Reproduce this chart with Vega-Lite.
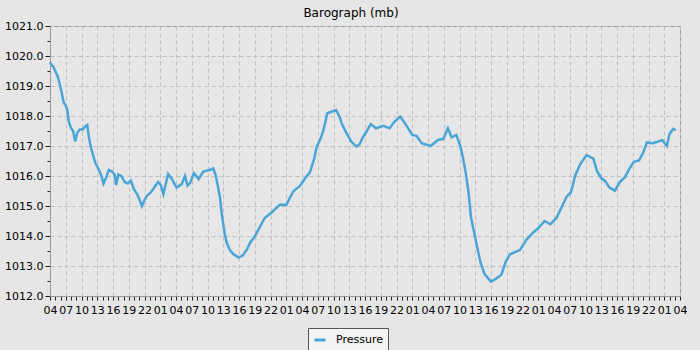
{
  "$schema": "https://vega.github.io/schema/vega-lite/v6.json",
  "width": 630,
  "height": 270,
  "autosize": {"type": "none"},
  "padding": {"left": 50, "top": 26, "right": 20, "bottom": 54},
  "background": "#e6e6e6",
  "title": {"text": "Barograph (mb)", "font": "DejaVu Sans", "fontSize": 12, "fontWeight": "normal", "color": "#000000", "offset": 0, "dx": -14},
  "config": {
    "view": {"stroke": "#999999", "strokeWidth": 1, "fill": "#e6e6e6"},
    "axis": {"labelFont": "DejaVu Sans", "labelFontSize": 11, "labelColor": "#000000", "domainColor": "#999999", "tickColor": "#222222", "gridColor": "#c0c0c0", "gridDash": [4, 3], "gridWidth": 1, "title": null}
  },
  "data": {"values": [
    {"h": 0, "p": 1019.8}, {"h": 0.3, "p": 1019.7}, {"h": 0.6, "p": 1019.65}, {"h": 1.0, "p": 1019.5},
    {"h": 1.4, "p": 1019.35}, {"h": 1.8, "p": 1019.1}, {"h": 2.2, "p": 1018.8}, {"h": 2.6, "p": 1018.45},
    {"h": 3.0, "p": 1018.35}, {"h": 3.3, "p": 1018.2}, {"h": 3.6, "p": 1017.8}, {"h": 4.0, "p": 1017.6},
    {"h": 4.4, "p": 1017.5}, {"h": 4.8, "p": 1017.15}, {"h": 5.2, "p": 1017.45}, {"h": 5.7, "p": 1017.55},
    {"h": 6.2, "p": 1017.55}, {"h": 6.7, "p": 1017.65}, {"h": 7.1, "p": 1017.7}, {"h": 7.4, "p": 1017.3},
    {"h": 7.8, "p": 1016.95}, {"h": 8.2, "p": 1016.7}, {"h": 8.6, "p": 1016.45}, {"h": 9.2, "p": 1016.25},
    {"h": 9.8, "p": 1016.0}, {"h": 10.2, "p": 1015.75}, {"h": 10.7, "p": 1015.95}, {"h": 11.2, "p": 1016.2},
    {"h": 11.8, "p": 1016.15}, {"h": 12.3, "p": 1016.05}, {"h": 12.6, "p": 1015.7}, {"h": 13.0, "p": 1016.05},
    {"h": 13.6, "p": 1016.0}, {"h": 14.2, "p": 1015.8}, {"h": 14.8, "p": 1015.75}, {"h": 15.4, "p": 1015.85},
    {"h": 16.0, "p": 1015.55}, {"h": 16.6, "p": 1015.4}, {"h": 17.2, "p": 1015.15}, {"h": 17.5, "p": 1015.0},
    {"h": 18.0, "p": 1015.2}, {"h": 18.5, "p": 1015.35}, {"h": 19.2, "p": 1015.45}, {"h": 20.0, "p": 1015.65},
    {"h": 20.6, "p": 1015.8}, {"h": 21.1, "p": 1015.7}, {"h": 21.6, "p": 1015.4}, {"h": 22.0, "p": 1015.7},
    {"h": 22.5, "p": 1016.07}, {"h": 23.2, "p": 1015.9}, {"h": 24.1, "p": 1015.62}, {"h": 25.1, "p": 1015.73},
    {"h": 25.7, "p": 1016.0}, {"h": 26.2, "p": 1015.68}, {"h": 26.7, "p": 1015.77}, {"h": 27.4, "p": 1016.1},
    {"h": 28.3, "p": 1015.9}, {"h": 29.2, "p": 1016.15}, {"h": 30.4, "p": 1016.2}, {"h": 31.1, "p": 1016.25},
    {"h": 31.6, "p": 1016.0}, {"h": 32.1, "p": 1015.55}, {"h": 32.4, "p": 1015.25}, {"h": 32.7, "p": 1014.75},
    {"h": 33.0, "p": 1014.4}, {"h": 33.3, "p": 1014.05}, {"h": 33.65, "p": 1013.78}, {"h": 34.2, "p": 1013.55},
    {"h": 34.9, "p": 1013.4}, {"h": 35.9, "p": 1013.28}, {"h": 36.7, "p": 1013.35}, {"h": 37.5, "p": 1013.55},
    {"h": 38.1, "p": 1013.77}, {"h": 39.05, "p": 1014.0}, {"h": 39.9, "p": 1014.28}, {"h": 40.9, "p": 1014.6},
    {"h": 42.2, "p": 1014.78}, {"h": 43.8, "p": 1015.05}, {"h": 45.0, "p": 1015.03}, {"h": 45.7, "p": 1015.28},
    {"h": 46.4, "p": 1015.5}, {"h": 47.6, "p": 1015.67}, {"h": 48.5, "p": 1015.9}, {"h": 49.5, "p": 1016.12},
    {"h": 50.3, "p": 1016.56}, {"h": 50.8, "p": 1016.98}, {"h": 51.5, "p": 1017.23}, {"h": 52.0, "p": 1017.48},
    {"h": 52.4, "p": 1017.76}, {"h": 52.8, "p": 1018.09}, {"h": 53.6, "p": 1018.14}, {"h": 54.5, "p": 1018.2},
    {"h": 55.2, "p": 1017.95}, {"h": 55.6, "p": 1017.73}, {"h": 56.5, "p": 1017.42}, {"h": 57.4, "p": 1017.14},
    {"h": 58.4, "p": 1016.98}, {"h": 59.0, "p": 1017.07}, {"h": 59.6, "p": 1017.3}, {"h": 60.0, "p": 1017.4},
    {"h": 61.1, "p": 1017.73}, {"h": 62.1, "p": 1017.59}, {"h": 63.5, "p": 1017.67}, {"h": 64.7, "p": 1017.59},
    {"h": 65.5, "p": 1017.79}, {"h": 66.7, "p": 1017.98}, {"h": 67.6, "p": 1017.76}, {"h": 69.0, "p": 1017.37},
    {"h": 69.8, "p": 1017.34}, {"h": 70.8, "p": 1017.09}, {"h": 72.5, "p": 1017.0}, {"h": 73.9, "p": 1017.2},
    {"h": 74.9, "p": 1017.23}, {"h": 75.8, "p": 1017.59}, {"h": 76.5, "p": 1017.29}, {"h": 77.4, "p": 1017.37},
    {"h": 78.1, "p": 1017.03}, {"h": 78.6, "p": 1016.67}, {"h": 79.2, "p": 1016.1}, {"h": 79.75, "p": 1015.4},
    {"h": 80.2, "p": 1014.61}, {"h": 80.8, "p": 1014.11}, {"h": 81.4, "p": 1013.61}, {"h": 82.0, "p": 1013.11},
    {"h": 82.8, "p": 1012.72}, {"h": 84.0, "p": 1012.48}, {"h": 85.1, "p": 1012.59}, {"h": 86.0, "p": 1012.72},
    {"h": 86.8, "p": 1013.14}, {"h": 87.6, "p": 1013.39}, {"h": 89.5, "p": 1013.53}, {"h": 90.8, "p": 1013.89},
    {"h": 92.0, "p": 1014.11}, {"h": 93.0, "p": 1014.26}, {"h": 94.2, "p": 1014.5}, {"h": 95.3, "p": 1014.39},
    {"h": 96.5, "p": 1014.61}, {"h": 97.4, "p": 1014.94}, {"h": 98.4, "p": 1015.31}, {"h": 99.2, "p": 1015.45},
    {"h": 99.6, "p": 1015.7}, {"h": 100.0, "p": 1016.0}, {"h": 101.0, "p": 1016.4}, {"h": 102.2, "p": 1016.7},
    {"h": 103.5, "p": 1016.58}, {"h": 104.2, "p": 1016.16}, {"h": 105.0, "p": 1015.93}, {"h": 105.8, "p": 1015.82},
    {"h": 106.5, "p": 1015.62}, {"h": 107.6, "p": 1015.51}, {"h": 108.5, "p": 1015.79}, {"h": 109.5, "p": 1015.96},
    {"h": 110.3, "p": 1016.22}, {"h": 111.2, "p": 1016.47}, {"h": 112.2, "p": 1016.52}, {"h": 113.0, "p": 1016.78},
    {"h": 113.7, "p": 1017.12}, {"h": 114.8, "p": 1017.09}, {"h": 115.7, "p": 1017.14}, {"h": 116.6, "p": 1017.2},
    {"h": 117.5, "p": 1017.0}, {"h": 118.0, "p": 1017.4}, {"h": 118.7, "p": 1017.57}, {"h": 119.2, "p": 1017.53}
  ]},
  "mark": {"type": "line", "strokeWidth": 2.5, "interpolate": "linear"},
  "encoding": {
    "x": {
      "field": "h", "type": "quantitative",
      "scale": {"domain": [0, 120], "nice": false, "zero": false},
      "axis": {
        "values": [0,1,2,3,4,5,6,7,8,9,10,11,12,13,14,15,16,17,18,19,20,21,22,23,24,25,26,27,28,29,30,31,32,33,34,35,36,37,38,39,40,41,42,43,44,45,46,47,48,49,50,51,52,53,54,55,56,57,58,59,60,61,62,63,64,65,66,67,68,69,70,71,72,73,74,75,76,77,78,79,80,81,82,83,84,85,86,87,88,89,90,91,92,93,94,95,96,97,98,99,100,101,102,103,104,105,106,107,108,109,110,111,112,113,114,115,116,117,118,119,120],
        "labelExpr": "datum.value % 3 === 0 ? ((((datum.value + 4) % 24) < 10 ? '0' : '') + ((datum.value + 4) % 24)) : ''",
        "labelOverlap": false,
        "labelFlush": false,
        "labelPadding": 4,
        "tickSize": 4,
        "grid": true,
        "gridOpacity": {"condition": {"test": "datum.value % 3 === 0 && datum.value > 0", "value": 1}, "value": 0}
      }
    },
    "y": {
      "field": "p", "type": "quantitative",
      "scale": {"domain": [1012, 1021], "nice": false, "zero": false},
      "axis": {
        "values": [1012,1012.5,1013,1013.5,1014,1014.5,1015,1015.5,1016,1016.5,1017,1017.5,1018,1018.5,1019,1019.5,1020,1020.5,1021],
        "labelExpr": "datum.value % 1 === 0 ? format(datum.value, '.1f') : ''",
        "labelOverlap": false,
        "labelFlush": false,
        "labelPadding": 2,
        "tickSize": {"condition": {"test": "datum.value % 1 === 0", "value": 5}, "value": 3},
        "grid": true,
        "gridOpacity": {"condition": {"test": "datum.value % 1 === 0 && datum.value > 1012", "value": 1}, "value": 0}
      }
    },
    "color": {
      "datum": "Pressure", "type": "nominal",
      "scale": {"range": ["#4ba6d8"]},
      "legend": {
        "orient": "none", "legendX": 258, "legendY": 302, "title": null,
        "symbolType": "stroke", "symbolStrokeWidth": 3, "symbolSize": 121,
        "labelFont": "DejaVu Sans", "labelFontSize": 11, "labelColor": "#000000", "labelOffset": 9,
        "padding": 5, "fillColor": "#f4f4f4", "strokeColor": "#555555", "cornerRadius": 0
      }
    }
  }
}
